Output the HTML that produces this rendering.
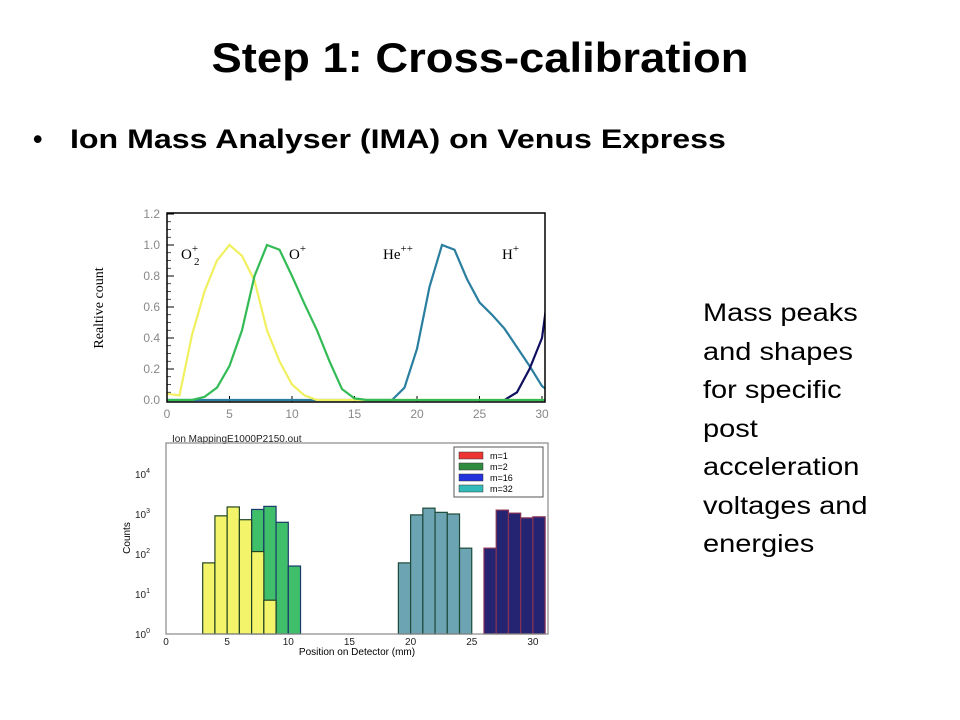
<!DOCTYPE html>
<html><head><meta charset="utf-8"><style>
body{margin:0;width:960px;height:720px;background:#fff;overflow:hidden;font-family:"Liberation Sans",sans-serif;}
.abs{position:absolute}
</style></head><body>
<div class="abs" style="left:0;width:960px;top:34px;text-align:center;font-size:42px;font-weight:bold;transform:scaleX(1.08);transform-origin:480px 0;">Step 1: Cross-calibration</div>
<div class="abs" style="left:33px;top:124px;font-size:27px;font-weight:bold;">•<span style="position:absolute;left:37px;white-space:nowrap;transform:scaleX(1.19);transform-origin:0 0;">Ion Mass Analyser (IMA) on Venus Express</span></div>
<div class="abs" style="left:703px;top:294px;font-size:25px;line-height:38.5px;transform:scaleX(1.16);transform-origin:0 0;">Mass peaks<br>and shapes<br>for specific<br>post<br>acceleration<br>voltages and<br>energies</div>
<svg class="abs" style="left:0;top:0" width="960" height="720">
<defs><clipPath id="tc"><rect x="167" y="213" width="378" height="189"/></clipPath></defs>
<g id="top"></g><g id="bot"></g>
</svg>
<script>
const NS='http://www.w3.org/2000/svg';
function mk(p,t,a,txt){const e=document.createElementNS(NS,t);for(const k in a)e.setAttribute(k,a[k]);if(txt!==undefined)e.textContent=txt;p.appendChild(e);return e;}
// ---- top chart data ----
const xO2=[0,1,2,3,4,5,6,7,8,9,10,11,12,31];
const yO2=[0.04,0.03,0.42,0.7,0.9,1.0,0.93,0.77,0.45,0.25,0.1,0.03,0.0,0.0];
const xO=[0,2,3,4,5,6,7,8,9,10,11,12,13,14,15,16,31];
const yO=[0,0,0.02,0.08,0.22,0.45,0.8,1.0,0.97,0.8,0.62,0.45,0.25,0.07,0.01,0,0];
const xHe=[0,18,19,20,21,22,23,24,25,26,27,28,29,30,31];
const yHe=[0,0,0.08,0.33,0.73,1.0,0.97,0.78,0.63,0.55,0.46,0.34,0.22,0.09,0.03];
const xH=[27,28,29,30,31];
const yH=[0,0.05,0.2,0.4,1.0];
const topXTicks=[0,5,10,15,20,25,30];
const topYTicks=[0,0.2,0.4,0.6,0.8,1.0,1.2];
// ---- bottom chart data ----
const barX=[7,8,9,10,3,4,5,6,7,8,19,20,21,22,23,24,26,27,28,29,30];
const barV=[1300,1550,620,50,60,900,1500,720,115,7,60,950,1400,1100,1000,140,140,1250,1050,800,850];
const barS=['g','g','g','g','y','y','y','y','y','y','t','t','t','t','t','t','n','n','n','n','n'];
const botXTicks=[0,5,10,15,20,25,30];
const botYExp=[0,1,2,3,4];
const legendLabels=['m=1','m=2','m=16','m=32'];
const legendColors=['#ee3333','#2e8b3e','#2233dd','#33bbbb'];

const T=document.getElementById('top');
const tx=v=>167+v*12.5, ty=v=>400-v*155;
topXTicks.forEach(v=>{mk(T,'line',{x1:tx(v),x2:tx(v),y1:402,y2:396,stroke:'#000'});const t=mk(T,'text',{x:tx(v),y:418,'font-size':12,fill:'#888','text-anchor':'middle'},String(v));});
topYTicks.forEach(v=>{mk(T,'line',{x1:167,x2:174,y1:ty(v),y2:ty(v),stroke:'#000'});const t=mk(T,'text',{x:160,y:ty(v)+4,'font-size':12,fill:'#888','text-anchor':'end'},v.toFixed(1));});
for(let i=0;i<=24;i++){const v=i*0.05;mk(T,'line',{x1:167,x2:171,y1:ty(v),y2:ty(v),stroke:'#000','stroke-width':0.7});}
mk(T,'text',{x:0,y:0,'font-size':14,'font-family':'Liberation Serif',transform:'translate(103,308) rotate(-90)','text-anchor':'middle',},'Realtive count');
const LG=mk(T,'g',{'clip-path':'url(#tc)'});
function line(xs,ys,c,n){const d=xs.map((x,i)=>(i?'L':'M')+tx(x).toFixed(1)+','+ty(ys[i]).toFixed(1)).join('');const p=mk(LG,'path',{d:d,fill:'none',stroke:c,'stroke-width':2.2});}
line(xHe,yHe,'#2a7fa0','he-curve');line(xH,yH,'#101060','h-curve');line(xO2,yO2,'#f0f060','o2-curve');line(xO,yO,'#33bb55','o-curve');
mk(T,'rect',{x:167,y:213,width:378,height:189,fill:'none',stroke:'#000','stroke-width':1.5,});
const lab=(x,y,main,sup,sub,n)=>{const t=mk(T,'text',{x:x,y:y,'font-size':15,'font-family':'Liberation Serif',},main);if(sup){mk(t,'tspan',{dy:-7,'font-size':11},sup);}if(sub){mk(T,'text',{x:x+13,y:y+6,'font-size':11,'font-family':'Liberation Serif'},sub);}};
lab(181,259,'O','+','2','label-o2');lab(289,259,'O','+',null,'label-o');lab(383,259,'He','++',null,'label-he');lab(502,259,'H','+',null,'label-h');

const B=document.getElementById('bot');
const bx=v=>166+v*12.23, by=e=>634-Math.log10(e)*40;
mk(B,'text',{x:172,y:442,'font-size':10,fill:'#222',},'Ion MappingE1000P2150.out');
const fills={y:'#f4f46a',g:'#3fbf6a',t:'#6ca4b4',n:'#242472'};
const strokes={y:'#224422',g:'#1a3a6a',t:'#1e4a3a',n:'#883355'};
barX.forEach((x,i)=>{const r=mk(B,'rect',{x:bx(x),y:by(barV[i]),width:12.23,height:634-by(barV[i]),fill:fills[barS[i]],stroke:strokes[barS[i]],'stroke-width':1.2});});
mk(B,'rect',{x:166,y:443,width:382,height:191,fill:'none',stroke:'#888','stroke-width':1.2,});
botXTicks.forEach(v=>{const t=mk(B,'text',{x:bx(v),y:645,'font-size':10,fill:'#222','text-anchor':'middle'},String(v));});
botYExp.forEach(e=>{const t=mk(B,'text',{x:150,y:by(Math.pow(10,e))+4,'font-size':10,fill:'#222','text-anchor':'end'},'10');mk(t,'tspan',{dy:-5,'font-size':7},String(e));});
mk(B,'text',{x:0,y:0,'font-size':10,transform:'translate(130,538) rotate(-90)','text-anchor':'middle',},'Counts');
mk(B,'text',{x:357,y:655,'font-size':10,'text-anchor':'middle',},'Position on Detector (mm)');
mk(B,'rect',{x:454,y:447,width:89,height:50,fill:'#fff',stroke:'#555',});
legendLabels.forEach((l,i)=>{mk(B,'rect',{x:459,y:452+i*11,width:24,height:7,fill:legendColors[i],stroke:'#333','stroke-width':0.5});const t=mk(B,'text',{x:490,y:459+i*11,'font-size':9},l);});
</script>
</body></html>
